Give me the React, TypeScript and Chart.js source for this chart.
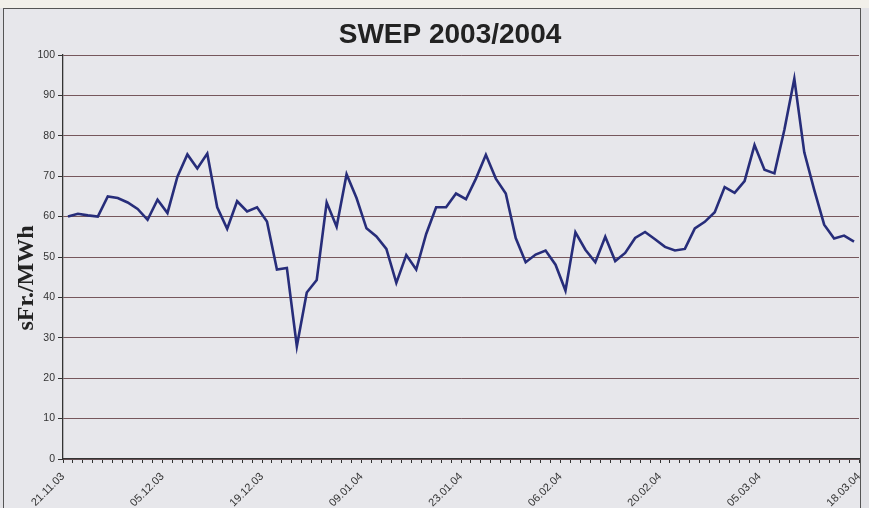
import React, { useEffect, useRef } from 'react';
import { Chart, registerables } from 'chart.js';

Chart.register(...registerables);

const chartTitle = 'SWEP 2003/2004';
const yAxisTitle = 'sFr./MWh';
const tickDates = ['21.11.03', '05.12.03', '19.12.03', '09.01.04', '23.01.04', '06.02.04', '20.02.04', '05.03.04', '18.03.04'];
const prices = [
  60.0, 60.7, 60.3, 60.0, 65.0, 64.6, 63.5, 61.9, 59.2, 64.2,
  60.9, 69.9, 75.4, 71.9, 75.6, 62.3, 57.0, 63.8, 61.3, 62.3,
  58.8, 46.9, 47.3, 27.9, 41.2, 44.3, 63.5, 57.5, 70.5, 64.6,
  57.1, 55.1, 52.0, 43.6, 50.5, 46.9, 55.7, 62.3, 62.3, 65.7,
  64.3, 69.4, 75.3, 69.4, 65.7, 54.7, 48.7, 50.6, 51.6, 48.1,
  41.7, 56.1, 51.8, 48.7, 55.0, 49.0, 51.0, 54.7, 56.2, 54.4,
  52.5, 51.6, 52.0, 57.1, 58.7, 61.1, 67.3, 65.9, 68.8, 77.7,
  71.6, 70.7, 81.5, 94.1, 75.9, 66.6, 58.0, 54.6, 55.3, 53.8,
];
const yTicks = { min: 0, max: 100, step: 10 };

const textPlugin = {
  id: 'customTexts',
  afterDraw(chart: any) {
    const ctx = chart.ctx;
    ctx.save();
    ctx.fillStyle = '#222222';
    ctx.font = "bold 28px 'Liberation Sans', Arial, sans-serif";
    ctx.textAlign = 'center';
    ctx.textBaseline = 'alphabetic';
    ctx.fillText(chartTitle, 450, 43);
    ctx.translate(33, 278);
    ctx.rotate(-Math.PI / 2);
    ctx.font = "bold 24px 'Liberation Serif', 'Times New Roman', serif";
    ctx.fillText(yAxisTitle, 0, 0);
    ctx.restore();
  },
};

export default function App() {
  const canvasRef = useRef<HTMLCanvasElement | null>(null);

  useEffect(() => {
    document.body.style.margin = '0';
    const canvas = canvasRef.current;
    if (!canvas) return;
    const chart = new Chart(canvas, {
      type: 'line',
      data: {
        datasets: [
          {
            data: prices.map((v, i) => ({ x: i + 0.5, y: v })),
            borderColor: '#272d7a',
            borderWidth: 2.6,
            pointRadius: 0,
            tension: 0,
            fill: false,
          },
        ],
      },
      options: {
        responsive: false,
        animation: false,
        events: [],
        layout: { padding: { top: 55, right: 10, bottom: 0, left: 0 } },
        plugins: {
          legend: { display: false },
          title: { display: false },
          tooltip: { enabled: false },
        },
        scales: {
          x: {
            type: 'linear',
            min: 0,
            max: 80,
            afterFit: (scale: any) => {
              scale.height = 49;
              scale.paddingRight = 0;
              scale.paddingLeft = 0;
            },
            ticks: {
              stepSize: 1,
              maxTicksLimit: 200,
              autoSkip: false,
              minRotation: 45,
              maxRotation: 45,
              padding: 7,
              color: '#333333',
              font: { family: "'Liberation Sans', Arial, sans-serif", size: 11 },
              callback: (v: any) => {
                const n = Math.round(Number(v));
                return n % 10 === 0 ? tickDates[n / 10] : '';
              },
            },
            grid: {
              drawOnChartArea: false,
              drawTicks: true,
              tickLength: 4,
              tickColor: '#333333',
              color: '#333333',
            },
            border: { color: '#333333', width: 1.3 },
          },
          y: {
            min: yTicks.min,
            max: yTicks.max,
            afterFit: (scale: any) => {
              scale.width = 63;
            },
            ticks: {
              stepSize: yTicks.step,
              padding: 3,
              color: '#333333',
              font: { family: "'Liberation Sans', Arial, sans-serif", size: 10.5 },
            },
            grid: {
              color: '#76575c',
              lineWidth: 1,
              tickLength: 5,
              tickColor: '#333333',
            },
            border: { color: '#333333', width: 1.3 },
          },
        },
      },
      plugins: [textPlugin],
    } as any);
    return () => chart.destroy();
  }, []);

  return (
    <div style={{ position: 'relative', width: 869, height: 508, background: '#e2e2e6', overflow: 'hidden' }}>
      <div style={{ position: 'absolute', left: 0, top: 0, width: 869, height: 8, background: '#f2f0ea' }} />
      <div
        style={{
          position: 'absolute',
          left: 3,
          top: 8,
          width: 856,
          height: 520,
          border: '1.5px solid #555',
          background: '#e7e7eb',
        }}
      />
      <canvas ref={canvasRef} width={869} height={508} style={{ position: 'absolute', left: 0, top: 0 }} />
    </div>
  );
}
